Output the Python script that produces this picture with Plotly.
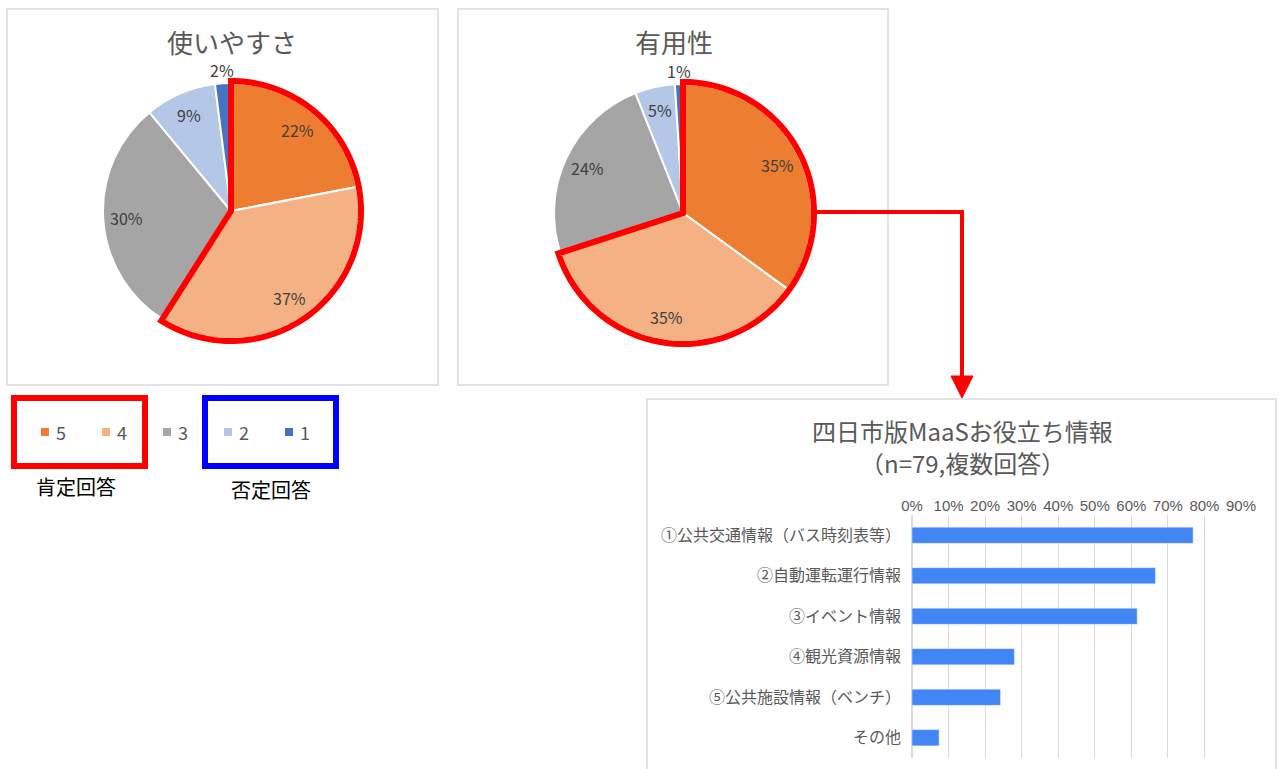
import numpy as np
import plotly.graph_objects as go

W, H = 1282, 769

# ---- data ----
categories = ["5", "4", "3", "2", "1"]
slice_colors = ["#ED7D31", "#F4B183", "#A5A5A5", "#B4C7E7", "#4472C4"]
ease_values = [22, 37, 30, 9, 2]        # 使いやすさ (%)
useful_values = [35, 35, 24, 5, 1]      # 有用性 (%)

bar_labels = [
    "①公共交通情報（バス時刻表等）",
    "②自動運転運行情報",
    "③イベント情報",
    "④観光資源情報",
    "⑤公共施設情報（ベンチ）",
    "その他",
]
bar_values = [0.769, 0.666, 0.616, 0.280, 0.242, 0.074]
tick_vals = [0, 0.1, 0.2, 0.3, 0.4, 0.5, 0.6, 0.7, 0.8, 0.9]
tick_text = ["0%", "10%", "20%", "30%", "40%", "50%", "60%", "70%", "80%", "90%"]

JP = "Noto Sans CJK JP"
GRAY = "#595959"
RED = "#FF0000"
BLUE = "#0000FF"


def px(x):
    return x / W


def py(y):
    return 1 - y / H


def label(text, x, y, size, color=GRAY, family=JP, xanchor="center"):
    return dict(text=text, x=px(x), y=py(y), xref="paper", yref="paper",
                xanchor=xanchor, yanchor="middle", showarrow=False,
                font=dict(family=family, size=size, color=color))


fig = go.Figure()
shapes = []
annotations = []

# ---- pie charts ----
pies = [
    dict(title="使いやすさ", values=ease_values, cx=231, cy=211, r=128,
         box=(7, 9, 438, 385), title_x=232),
    dict(title="有用性", values=useful_values, cx=683, cy=213, r=129,
         box=(458, 9, 888, 385), title_x=674),
]

for p in pies:
    cx, cy, r = p["cx"], p["cy"], p["r"]
    x0, y0, x1, y1 = p["box"]
    shapes.append(dict(type="rect", xref="paper", yref="paper",
                       x0=px(x0), x1=px(x1), y0=py(y1), y1=py(y0),
                       line=dict(color="#D9D9D9", width=1.5), layer="below"))
    fig.add_trace(go.Pie(
        labels=categories, values=p["values"], sort=False,
        direction="clockwise", rotation=0,
        marker=dict(colors=slice_colors, line=dict(color="white", width=2)),
        textinfo="none", hoverinfo="label+percent", showlegend=False,
        domain=dict(x=[px(cx - r), px(cx + r)], y=[py(cy + r), py(cy - r)]),
    ))
    annotations.append(label(p["title"], p["title_x"], 42, 26))

    # percentage labels
    total = sum(p["values"])
    cum = 0
    for v in p["values"]:
        mid = (cum + v / 2) / total * 2 * np.pi
        cum += v
        k = 1.1 if v / total < 0.03 else 0.82
        lx = cx + k * r * np.sin(mid)
        ly = cy - k * r * np.cos(mid)
        annotations.append(label(f"{v}%", lx, ly, 16, color="#404040"))

    # red outline around positive answers (5 + 4)
    pos_share = (p["values"][0] + p["values"][1]) / total
    R = r + 2
    th = np.linspace(0, pos_share * 2 * np.pi, 120)
    pts = [(cx, cy)] + [(cx + R * np.sin(t), cy - R * np.cos(t)) for t in th]
    path = "M " + " L ".join(f"{px(a):.5f},{py(b):.5f}" for a, b in pts) + " Z"
    shapes.append(dict(type="path", xref="paper", yref="paper", path=path,
                       line=dict(color=RED, width=6)))

# ---- manual legend ----
leg_y = 432
for i, (cat, col) in enumerate(zip(categories, slice_colors)):
    lx = 45 + i * 61
    shapes.append(dict(type="rect", xref="paper", yref="paper",
                       x0=px(lx - 4), x1=px(lx + 4), y0=py(leg_y + 4), y1=py(leg_y - 4),
                       fillcolor=col, line=dict(width=0)))
    annotations.append(label(cat, lx + 9, leg_y, 18, xanchor="left"))

shapes.append(dict(type="rect", xref="paper", yref="paper",
                   x0=px(14), x1=px(145), y0=py(466), y1=py(398),
                   line=dict(color=RED, width=6)))
shapes.append(dict(type="rect", xref="paper", yref="paper",
                   x0=px(205), x1=px(336), y0=py(466), y1=py(398),
                   line=dict(color=BLUE, width=6)))
annotations.append(label("肯定回答", 76, 486, 20, color="black"))
annotations.append(label("否定回答", 271, 490, 20, color="black"))

# ---- connector arrow ----
shapes.append(dict(type="path", xref="paper", yref="paper",
                   path=f"M {px(812)},{py(212)} L {px(962)},{py(212)} L {px(962)},{py(380)}",
                   line=dict(color=RED, width=4)))
shapes.append(dict(type="path", xref="paper", yref="paper",
                   path=f"M {px(951)},{py(376)} L {px(973)},{py(376)} L {px(962)},{py(398)} Z",
                   fillcolor=RED, line=dict(color=RED, width=1)))

# ---- bar chart ----
shapes.append(dict(type="rect", xref="paper", yref="paper",
                   x0=px(647), x1=px(1276), y0=py(780), y1=py(399),
                   line=dict(color="#D9D9D9", width=1.5), layer="below"))
annotations.append(label("四日市版MaaSお役立ち情報", 962, 430, 24))
annotations.append(label("（n=79,複数回答）", 962, 462, 24))

fig.add_trace(go.Bar(
    x=bar_values, y=bar_labels, orientation="h", width=0.4,
    marker=dict(color="#4285F4"), showlegend=False,
    hovertemplate="%{y}: %{x:.0%}<extra></extra>",
))

fig.update_layout(
    width=W, height=H,
    margin=dict(l=0, r=0, t=0, b=0),
    paper_bgcolor="white", plot_bgcolor="white",
    shapes=shapes, annotations=annotations,
    xaxis=dict(domain=[px(912), px(1241)], range=[0, 0.9], side="top",
               tickvals=tick_vals, ticktext=tick_text,
               tickfont=dict(family="Liberation Sans", size=15, color=GRAY),
               showgrid=True, gridcolor="#D9D9D9", gridwidth=1,
               zeroline=True, zerolinecolor="#D9D9D9", showline=False,
               automargin=False, fixedrange=True),
    yaxis=dict(domain=[py(758), py(515)], autorange="reversed",
               categoryorder="array", categoryarray=bar_labels,
               tickfont=dict(family=JP, size=16, color=GRAY),
               showgrid=False, zeroline=False, showline=False,
               ticklabelstandoff=10, automargin=False, fixedrange=True),
    bargap=0.6,
)

fig.write_html("out.html")
